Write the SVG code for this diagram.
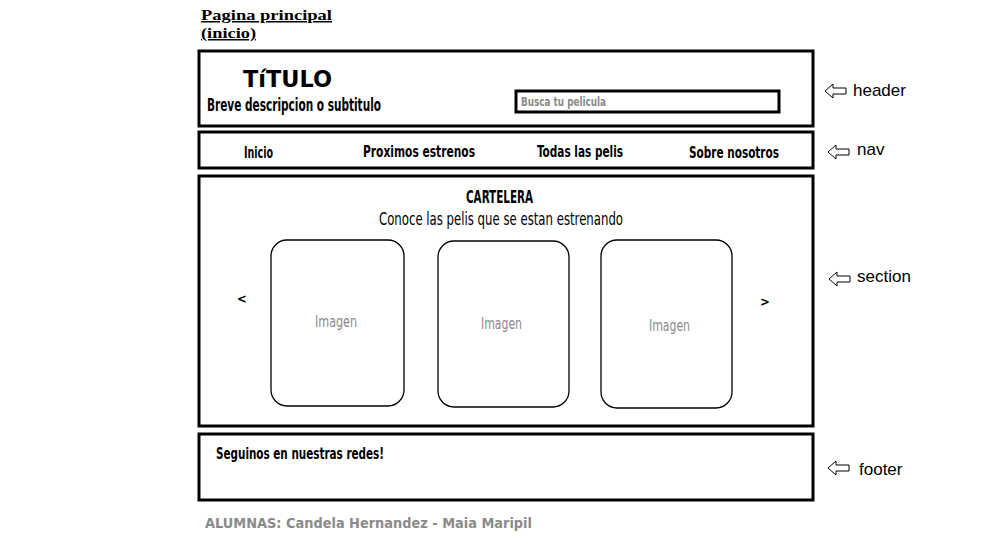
<svg xmlns="http://www.w3.org/2000/svg" width="1008" height="545" viewBox="0 0 1008 545">
<style>
.box{fill:#fff;stroke:#000;stroke-width:3}
.card{fill:#fff;stroke:#000;stroke-width:1.3}
.cond{font-family:"DejaVu Sans Condensed","Liberation Sans Narrow","Liberation Sans",sans-serif;fill:#000}
.b{font-weight:bold}
.gray{fill:#8a8a8a}
.lbl{font-family:"Liberation Sans",Arial,sans-serif;font-size:17px;fill:#000}
.arr{fill:#fff;stroke:#000;stroke-width:1}
</style>
<defs>
<path id="la" d="M0,0 L8,-7 L8,-3 L21,-3 L21,3 L8,3 L8,7 Z"/>
</defs>
<rect width="1008" height="545" fill="#fff"/>
<g id="page-title">
<text x="201" y="20" font-family="'Liberation Serif',serif" font-weight="bold" font-size="15" text-decoration="underline" textLength="131" lengthAdjust="spacingAndGlyphs">Pagina principal</text>
<text x="201" y="38" font-family="'Liberation Serif',serif" font-weight="bold" font-size="15" text-decoration="underline" textLength="55" lengthAdjust="spacingAndGlyphs">(inicio)</text>
</g>
<g id="header">
<rect class="box" x="199" y="51" width="614" height="75"/>
<text class="cond b" x="243" y="87" font-size="23" textLength="89" lengthAdjust="spacingAndGlyphs">TíTULO</text>
<text class="cond b" x="207" y="111" font-size="17" textLength="174" lengthAdjust="spacingAndGlyphs">Breve descripcion o subtitulo</text>
<rect x="516" y="91" width="263" height="21" fill="#fff" stroke="#000" stroke-width="3"/>
<text class="cond gray b" x="521" y="106" font-size="13" textLength="85" lengthAdjust="spacingAndGlyphs">Busca tu pelicula</text>
</g>
<g id="nav">
<rect class="box" x="199" y="132" width="614" height="36"/>
<text class="cond b" x="244" y="158" font-size="16" textLength="29" lengthAdjust="spacingAndGlyphs">Inicio</text>
<text class="cond b" x="363" y="157" font-size="16" textLength="112" lengthAdjust="spacingAndGlyphs">Proximos estrenos</text>
<text class="cond b" x="537" y="157" font-size="16" textLength="86" lengthAdjust="spacingAndGlyphs">Todas las pelis</text>
<text class="cond b" x="689" y="158" font-size="16" textLength="90" lengthAdjust="spacingAndGlyphs">Sobre nosotros</text>
</g>
<g id="section">
<rect class="box" x="199" y="176" width="614" height="250"/>
<text class="cond b" x="466" y="203" font-size="17" textLength="67" lengthAdjust="spacingAndGlyphs">CARTELERA</text>
<text class="cond" x="379" y="225" font-size="17" textLength="244" lengthAdjust="spacingAndGlyphs">Conoce las pelis que se estan estrenando</text>
<text class="cond b" x="237" y="303" font-size="13">&lt;</text>
<text class="cond b" x="760" y="306" font-size="13">&gt;</text>
</g>
<g id="card-1">
<rect class="card" x="271" y="240" width="133" height="166" rx="16"/>
<text class="cond gray" x="315" y="327" font-size="16" textLength="42" lengthAdjust="spacingAndGlyphs">Imagen</text>
</g>
<g id="card-2">
<rect class="card" x="438" y="241" width="131" height="166" rx="16"/>
<text class="cond gray" x="481" y="329" font-size="16" textLength="41" lengthAdjust="spacingAndGlyphs">Imagen</text>
</g>
<g id="card-3">
<rect class="card" x="601" y="240" width="131" height="168" rx="16"/>
<text class="cond gray" x="649" y="331" font-size="16" textLength="41" lengthAdjust="spacingAndGlyphs">Imagen</text>
</g>
<g id="footer">
<rect class="box" x="199" y="434" width="614" height="66"/>
<text class="cond b" x="216" y="459" font-size="16" textLength="168" lengthAdjust="spacingAndGlyphs">Seguinos en nuestras redes!</text>
</g>
<g id="credits">
<text x="205" y="528" font-family="'DejaVu Sans','Liberation Sans',sans-serif" font-weight="bold" font-size="14" fill="#8a8a8a" textLength="327" lengthAdjust="spacingAndGlyphs">ALUMNAS: Candela Hernandez - Maia Maripil</text>
</g>
<g id="connectors">
<use href="#la" class="arr" x="825" y="91"/>
<use href="#la" class="arr" x="828" y="152"/>
<use href="#la" class="arr" x="829" y="279"/>
<use href="#la" class="arr" x="828" y="468"/>
</g>
<g id="labels">
<text class="lbl" x="853" y="96">header</text>
<text class="lbl" x="857" y="155">nav</text>
<text class="lbl" x="857" y="282">section</text>
<text class="lbl" x="859" y="475">footer</text>
</g>
</svg>
